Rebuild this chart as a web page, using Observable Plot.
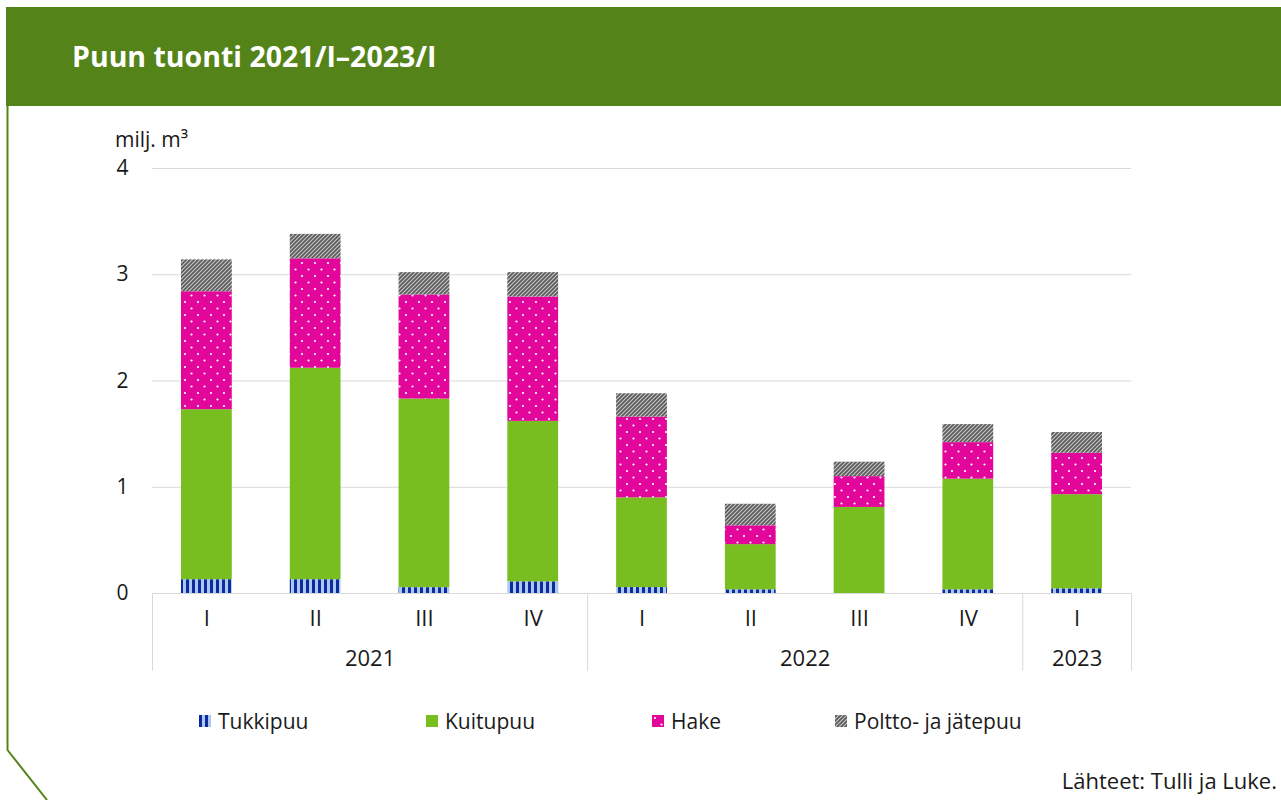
<!DOCTYPE html>
<html>
<head>
<meta charset="utf-8">
<script src="https://cdn.jsdelivr.net/npm/d3@7"></script>
<script src="https://cdn.jsdelivr.net/npm/@observablehq/plot@0.6"></script>
<style>
  html, body { margin: 0; padding: 0; background: #fff; }
  body { width: 1281px; height: 800px; position: relative; overflow: hidden; font-family: "Open Sans", "Noto Sans", sans-serif; color: #1a1a1a; }
  #frame { position: absolute; left: 0; top: 0; }
  #header { position: absolute; left: 6px; top: 7px; width: 1275px; height: 99px; background: #548319; }
  #title { position: absolute; left: 72px; top: 37px; color: #fff; font-weight: 700; font-size: 28.5px; line-height: 38px; }
  #chart { position: absolute; left: 0; top: 0; }
  #ylabel { position: absolute; left: 115px; top: 125px; font-size: 21px; line-height: 28px; }
  #legend { position: absolute; top: 707px; left: 0; width: 1281px; height: 30px; font-size: 21px; }
  .item { position: absolute; top: 0; display: flex; align-items: center; height: 28px; }
  .item svg { margin-right: 7px; }
  #source { position: absolute; right: 4px; top: 765px; font-size: 22px; line-height: 30px; }
</style>
</head>
<body>
<svg id="frame" width="1281" height="800">
  <path d="M7.5,106 L7.5,750 L47,800" fill="none" stroke="#548319" stroke-width="2"/>
</svg>
<div id="header"></div>
<div id="title">Puun tuonti 2021/I–2023/I</div>
<div id="ylabel">milj. m³</div>
<div id="chart"></div>
<div id="legend"></div>
<div id="source">Lähteet: Tulli ja Luke.</div>
<script>
// ---- data ----
const quarters = ["I", "II", "III", "IV", "I", "II", "III", "IV", "I"];
const years = ["2021", "2021", "2021", "2021", "2022", "2022", "2022", "2022", "2023"];
const seriesNames = ["Tukkipuu", "Kuitupuu", "Hake", "Poltto- ja jätepuu"];
const tukkipuu = [0.13, 0.13, 0.055, 0.11, 0.056, 0.035, 0.0, 0.035, 0.044];
const kuitupuu = [1.60, 1.99, 1.775, 1.51, 0.844, 0.425, 0.81, 1.041, 0.886];
const hake = [1.11, 1.03, 0.98, 1.17, 0.76, 0.177, 0.29, 0.344, 0.39];
const poltto = [0.30, 0.23, 0.21, 0.23, 0.22, 0.203, 0.136, 0.17, 0.195];
const yTicks = [0, 1, 2, 3, 4];

// ---- build table ----
const seriesValues = [tukkipuu, kuitupuu, hake, poltto];
const rows = [];
quarters.forEach((q, i) => {
  seriesNames.forEach((s, k) => rows.push({i, quarter: q, year: years[i], series: s, value: seriesValues[k][i]}));
});
const yearGroups = Array.from(d3.group(quarters.map((q, i) => ({i, year: years[i]})), d => d.year),
  ([year, arr]) => ({year, start: arr[0].i, end: arr[arr.length - 1].i + 1}));
const separators = [0, ...yearGroups.map(g => g.end)];

const patternIds = ["pTukki", "pKuitu", "pHake", "pPoltto"];
const fills = patternIds.map(id => `url(#${id})`);

const font = '"Open Sans", "Noto Sans", sans-serif';
const chart = Plot.plot({
  width: 1281,
  height: 700,
  marginTop: 168,
  marginLeft: 152,
  marginRight: 150,
  marginBottom: 107,
  style: {fontFamily: font, fontSize: "21px", color: "#1a1a1a", background: "transparent", overflow: "visible"},
  x: {domain: [0, quarters.length], axis: null},
  y: {domain: [0, 4], ticks: yTicks, tickSize: 0, tickPadding: 24, label: null, tickFormat: d3.format("d")},
  color: {domain: seriesNames, range: fills},
  marks: [
    Plot.ruleY(yTicks, {y: d => d, stroke: "#d9d9d9", strokeWidth: 1}),
    Plot.rectY(rows, {x1: d => d.i, x2: d => d.i + 1, y: "value", fill: "series", insetLeft: 29, insetRight: 29}),
    Plot.ruleX(separators, {x: d => d, y1: 0, y2: -0.73, stroke: "#d9d9d9", strokeWidth: 1}),
    Plot.text(quarters.map((q, i) => ({q, i})), {x: d => d.i + 0.5, y: 0, text: "q", dy: 25, fontSize: 22, fill: "#1a1a1a"}),
    Plot.text(yearGroups, {x: d => (d.start + d.end) / 2, y: 0, text: "year", dy: 65, fontSize: 22, fill: "#1a1a1a"})
  ]
});

// pattern definitions
const svgNS = "http://www.w3.org/2000/svg";
const defsMarkup = `
<pattern id="pTukki" patternUnits="userSpaceOnUse" width="6" height="6">
  <rect width="6" height="6" fill="#adc6f2"/>
  <rect x="0" width="3" height="6" fill="#0a2c9c"/>
</pattern>
<pattern id="pKuitu" patternUnits="userSpaceOnUse" width="6" height="6">
  <rect width="6" height="6" fill="#78be20"/>
</pattern>
<pattern id="pHake" patternUnits="userSpaceOnUse" width="13" height="13">
  <rect width="13" height="13" fill="#e2069b"/>
  <circle cx="3" cy="3" r="1.1" fill="#fff"/>
  <circle cx="9.5" cy="9.5" r="1.1" fill="#fff"/>
</pattern>
<pattern id="pPoltto" patternUnits="userSpaceOnUse" width="4" height="4">
  <rect width="4" height="4" fill="#5b5b5b"/>
  <path d="M-1,1 l2,-2 M0,4 l4,-4 M3,5 l2,-2" stroke="#c9c9c9" stroke-width="1.1"/>
</pattern>`;
const defs = document.createElementNS(svgNS, "defs");
defs.innerHTML = defsMarkup;
chart.insertBefore(defs, chart.firstChild);
document.getElementById("chart").appendChild(chart);

// legend
const legendLeft = [199, 426, 652, 835];
const legend = document.getElementById("legend");
seriesNames.forEach((s, k) => {
  const item = document.createElement("div");
  item.className = "item";
  item.style.left = legendLeft[k] + "px";
  item.innerHTML = `<svg width="12" height="12"><rect width="12" height="12" fill="${fills[k]}"/></svg><span>${s}</span>`;
  legend.appendChild(item);
});
</script>
</body>
</html>
